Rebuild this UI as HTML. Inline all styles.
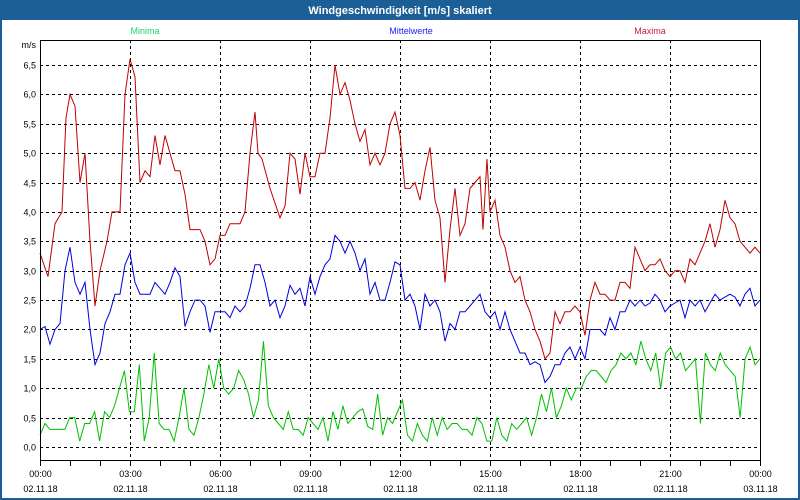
<!DOCTYPE html>
<html><head><meta charset="utf-8"><style>
body{margin:0;width:800px;height:500px;overflow:hidden;background:#1c5e96;font-family:"Liberation Sans",sans-serif}
#w{position:absolute;left:0;top:0;width:800px;height:500px}
</style></head><body>
<svg id="w" width="800" height="500" xmlns="http://www.w3.org/2000/svg">
<rect x="0" y="0" width="800" height="500" fill="#1c5e96"/>
<rect x="2" y="20" width="796" height="478" fill="#ffffff"/>
<text x="400" y="14" fill="#fff" font-size="11" font-weight="bold" text-anchor="middle">Windgeschwindigkeit [m/s] skaliert</text>
<text x="145" y="34" fill="#20d070" font-size="9" text-anchor="middle">Minima</text>
<text x="411" y="34" fill="#2020ff" font-size="9" text-anchor="middle">Mittelwerte</text>
<text x="650" y="34" fill="#c02040" font-size="9" text-anchor="middle">Maxima</text>
<g id="grid"></g>
<g id="series"></g>
<rect x="40.5" y="40.5" width="720" height="420" fill="none" stroke="#000" stroke-width="1"/>
<g id="labels" font-size="9" fill="#000"></g>
</svg>
<script>
var NS="http://www.w3.org/2000/svg";
function el(p,t,a,txt){var e=document.createElementNS(NS,t);for(var k in a)e.setAttribute(k,a[k]);if(txt)e.textContent=txt;p.appendChild(e);return e;}
function Y(v){return 447-v*(382/6.5);}
var g=document.getElementById('grid'),L=document.getElementById('labels'),S=document.getElementById('series');
for(var i=0;i<=13;i++){var v=i*0.5,y=Math.round(Y(v))+0.5;
 el(g,'line',{x1:40,x2:760,y1:y,y2:y,stroke:'#000','stroke-dasharray':'3,3'});
 el(L,'text',{x:36,y:y+3,'text-anchor':'end'},v.toFixed(1).replace('.',','));}
el(L,'text',{x:36,y:48,'text-anchor':'end'},'m/s');
for(var h=0;h<=24;h++){var x=40+h*30+0.5;
 el(g,'line',{x1:x,x2:x,y1:461,y2:466,stroke:'#000'});
 if(h%3==0){ if(h>0&&h<24)el(g,'line',{x1:x,x2:x,y1:40,y2:461,stroke:'#000','stroke-dasharray':'3,3'});
  var hh=(h%24<10?'0':'')+(h%24)+':00';
  el(L,'text',{x:x,y:477,'text-anchor':'middle'},hh);
  el(L,'text',{x:x,y:492,'text-anchor':'middle'},h==24?'03.11.18':'02.11.18');}}
var red=[[40,3.3],[48,2.9],[55,3.8],[62,4.0],[66,5.6],[70,6.0],[75,5.8],[80,4.5],[85,5.0],[90,3.5],[95,2.4],[100,3.0],[107,3.5],[112,4.0],[120,4.0],[125,6.0],[130,6.6],[135,6.3],[140,4.5],[145,4.7],[150,4.6],[155,5.3],[160,4.8],[165,5.3],[170,5.0],[175,4.7],[180,4.7],[185,4.3],[190,3.7],[200,3.7],[205,3.5],[210,3.1],[215,3.2],[220,3.6],[225,3.6],[230,3.8],[240,3.8],[245,4.0],[250,5.0],[255,5.7],[258,5.0],[262,4.9],[270,4.4],[280,3.9],[285,4.1],[290,5.0],[295,4.9],[300,4.3],[305,5.0],[310,4.6],[315,4.6],[320,5.0],[325,5.0],[330,5.6],[335,6.5],[340,6.0],[345,6.2],[350,5.9],[355,5.5],[360,5.2],[365,5.4],[370,4.8],[375,5.0],[380,4.8],[385,5.0],[390,5.5],[395,5.7],[400,5.3],[405,4.4],[410,4.4],[415,4.5],[420,4.2],[425,4.7],[430,5.1],[435,4.2],[440,3.9],[445,2.8],[450,3.7],[455,4.4],[460,3.6],[465,3.8],[470,4.4],[475,4.5],[480,4.6],[483,3.7],[487,4.9],[490,4.0],[495,4.2],[500,3.6],[505,3.4],[510,3.0],[515,2.8],[520,2.9],[525,2.5],[530,2.3],[535,2.0],[540,1.8],[545,1.5],[550,1.6],[555,2.3],[560,2.1],[565,2.3],[570,2.3],[575,2.4],[580,2.3],[585,1.9],[590,2.5],[595,2.8],[600,2.6],[605,2.6],[610,2.5],[615,2.5],[620,2.8],[625,2.8],[630,2.7],[635,3.4],[640,3.2],[645,3.0],[650,3.1],[655,3.1],[660,3.2],[665,3.0],[670,2.9],[675,3.0],[680,3.0],[685,2.8],[690,3.2],[695,3.1],[700,3.3],[705,3.5],[710,3.8],[715,3.4],[720,3.7],[725,4.2],[730,3.9],[735,3.8],[740,3.5],[745,3.4],[750,3.3],[755,3.4],[760,3.3]];
var blue=[2.0,2.05,1.75,2.0,2.1,3.0,3.4,2.8,2.6,2.8,2.0,1.4,1.6,2.1,2.3,2.6,2.6,3.1,3.3,2.8,2.6,2.6,2.6,2.8,2.7,2.6,2.8,3.05,2.9,2.05,2.3,2.5,2.5,2.4,1.95,2.3,2.3,2.3,2.2,2.4,2.3,2.4,2.7,3.1,3.1,2.8,2.4,2.5,2.2,2.4,2.75,2.6,2.7,2.4,2.9,2.6,2.9,3.1,3.2,3.6,3.5,3.3,3.5,3.3,3.0,3.2,2.6,2.8,2.5,2.5,2.8,3.15,3.1,2.5,2.6,2.4,2.0,2.6,2.4,2.5,2.3,1.8,2.1,2.0,2.3,2.3,2.4,2.5,2.6,2.3,2.2,2.3,2.0,2.3,2.0,1.8,1.6,1.6,1.4,1.45,1.4,1.1,1.2,1.4,1.4,1.6,1.7,1.5,1.7,1.5,2.0,2.0,2.0,1.9,2.2,2.0,2.3,2.3,2.5,2.4,2.5,2.4,2.45,2.6,2.5,2.3,2.4,2.45,2.5,2.2,2.5,2.4,2.5,2.3,2.45,2.6,2.5,2.55,2.6,2.55,2.4,2.6,2.7,2.4,2.5];
var green=[0.2,0.4,0.3,0.3,0.3,0.3,0.5,0.5,0.1,0.4,0.4,0.6,0.1,0.6,0.5,0.7,1.0,1.3,0.6,0.6,1.4,0.1,0.5,1.6,0.4,0.3,0.3,0.1,0.5,1.0,0.3,0.2,0.5,0.9,1.4,1.0,1.5,1.0,0.9,1.0,1.3,1.15,0.9,0.5,0.8,1.8,0.7,0.5,0.4,0.3,0.6,0.3,0.3,0.2,0.5,0.4,0.3,0.5,0.1,0.6,0.3,0.7,0.4,0.5,0.6,0.65,0.35,0.3,0.9,0.2,0.5,0.4,0.6,0.8,0.2,0.1,0.4,0.2,0.1,0.5,0.2,0.5,0.3,0.4,0.4,0.3,0.3,0.2,0.5,0.4,0.1,0.1,0.5,0.2,0.1,0.4,0.3,0.4,0.5,0.2,0.5,0.9,0.6,1.0,0.5,0.7,1.0,0.8,1.0,1.0,1.2,1.3,1.3,1.2,1.1,1.3,1.4,1.6,1.5,1.6,1.4,1.8,1.5,1.3,1.6,1.0,1.6,1.7,1.5,1.6,1.3,1.4,1.5,0.4,1.6,1.4,1.3,1.6,1.4,1.3,1.2,0.5,1.5,1.7,1.4,1.5];
function pl(pts,c){el(S,'polyline',{points:pts.map(function(p){return p[0]+','+Y(p[1]).toFixed(1)}).join(' '),fill:'none',stroke:c,'stroke-width':1});}
function arr(a){return a.map(function(v,i){return [40+i*720/(a.length-1),v]});}
pl(arr(green),'#00c000');pl(arr(blue),'#0000e0');pl(red,'#c00000');
</script>
</body></html>
